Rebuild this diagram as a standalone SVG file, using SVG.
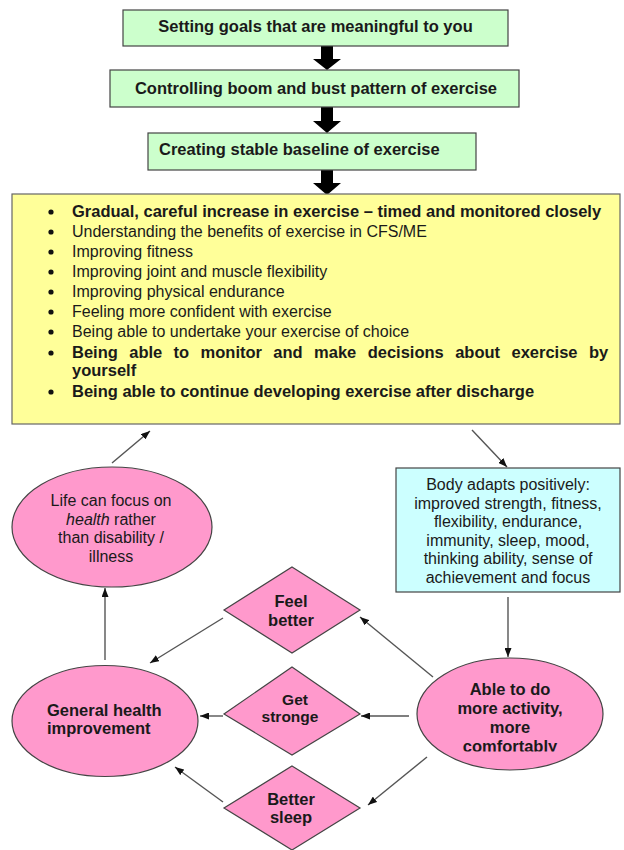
<svg xmlns="http://www.w3.org/2000/svg" width="624" height="850" viewBox="0 0 624 850">
  <defs>
    <style>
      .t { font-family: "Liberation Sans", Arial, sans-serif; fill: #1a1a1a; }
      .b { font-weight: bold; font-size: 16.5px; }
      .r { font-size: 16px; }
      .c { text-anchor: middle; }
      .green { fill: #ccffcc; stroke: #444; stroke-width: 1.2; }
      .yellow { fill: #ffff99; stroke: #666; stroke-width: 1.2; }
      .blue { fill: #ccffff; stroke: #444; stroke-width: 1.2; }
      .pink { fill: #ff99cc; stroke: #444; stroke-width: 1.2; }
      .block { fill: #000; }
      .conn { stroke: #555; stroke-width: 1.4; fill: none; marker-end: url(#ah); }
    </style>
    <marker id="ah" markerWidth="9" markerHeight="7" refX="9" refY="3.5" orient="auto" markerUnits="userSpaceOnUse">
      <path d="M0,0 L9,3.5 L0,7 z" fill="#111"/>
    </marker>
    <clipPath id="ableClip">
      <rect x="400" y="650" width="220" height="101.5"/>
    </clipPath>
  </defs>

  <g id="connectors">
    <polygon class="block" points="321,46 333,46 333,59 341,59 327,70 313,59 321,59"/>
    <polygon class="block" points="321,107 333,107 333,121 341,121 327,133 313,121 321,121"/>
    <polygon class="block" points="321,170 333,170 333,183 341,183 327,195 313,183 321,183"/>
    <line class="conn" x1="112" y1="463" x2="150" y2="431"/>
    <line class="conn" x1="472" y1="430" x2="507" y2="467"/>
    <line class="conn" x1="508" y1="597" x2="508" y2="657"/>
    <line class="conn" x1="433" y1="677" x2="360" y2="617"/>
    <line class="conn" x1="409" y1="716" x2="361" y2="716"/>
    <line class="conn" x1="427" y1="757" x2="368" y2="805"/>
    <line class="conn" x1="223" y1="618" x2="150" y2="663"/>
    <line class="conn" x1="223" y1="716" x2="200" y2="716"/>
    <line class="conn" x1="223" y1="802" x2="175" y2="767"/>
    <line class="conn" x1="105" y1="660" x2="105" y2="588"/>
  </g>

  <g id="goals">
    <rect class="green" x="123" y="10" width="385" height="36"/>
    <text class="t b c" x="315.5" y="32">Setting goals that are meaningful to you</text>
  </g>

  <g id="boom-bust">
    <rect class="green" x="110" y="70" width="409" height="37"/>
    <text class="t b c" x="316" y="93.5">Controlling boom and bust pattern of exercise</text>
  </g>

  <g id="baseline">
    <rect class="green" x="148" y="133" width="328" height="37"/>
    <text class="t b" x="159" y="155">Creating stable baseline of exercise</text>
  </g>

  <g id="exercise-list">
    <rect class="yellow" x="12" y="194" width="608" height="230"/>
    <g fill="#111">
      <circle cx="51" cy="212" r="2.6"/>
      <circle cx="51" cy="232" r="2.6"/>
      <circle cx="51" cy="252" r="2.6"/>
      <circle cx="51" cy="272" r="2.6"/>
      <circle cx="51" cy="292" r="2.6"/>
      <circle cx="51" cy="312" r="2.6"/>
      <circle cx="51" cy="332" r="2.6"/>
      <circle cx="51" cy="353" r="2.6"/>
      <circle cx="51" cy="392" r="2.6"/>
    </g>
    <text class="t b" x="72" y="217">Gradual, careful increase in exercise – timed and monitored closely</text>
    <text class="t r" x="72" y="237">Understanding the benefits of exercise in CFS/ME</text>
    <text class="t r" x="72" y="257">Improving fitness</text>
    <text class="t r" x="72" y="277">Improving joint and muscle flexibility</text>
    <text class="t r" x="72" y="297">Improving physical endurance</text>
    <text class="t r" x="72" y="317">Feeling more confident with exercise</text>
    <text class="t r" x="72" y="337">Being able to undertake your exercise of choice</text>
    <text class="t b" x="72" y="358" word-spacing="6.8">Being able to monitor and make decisions about exercise by</text>
    <text class="t b" x="72" y="376">yourself</text>
    <text class="t b" x="72" y="397">Being able to continue developing exercise after discharge</text>
  </g>

  <g id="life-focus">
    <ellipse class="pink" cx="112" cy="527" rx="100" ry="60"/>
    <text class="t r c" x="111" y="506">Life can focus on</text>
    <text class="t r c" x="111" y="525"><tspan font-style="italic">health</tspan> rather</text>
    <text class="t r c" x="111" y="543">than disability /</text>
    <text class="t r c" x="111" y="562">illness</text>
  </g>

  <g id="body-adapts">
    <rect class="blue" x="396" y="468" width="224" height="124"/>
    <text class="t r c" x="508" y="490">Body adapts positively:</text>
    <text class="t r c" x="508" y="508.5">improved strength, fitness,</text>
    <text class="t r c" x="508" y="527">flexibility, endurance,</text>
    <text class="t r c" x="508" y="545.5">immunity, sleep, mood,</text>
    <text class="t r c" x="508" y="564">thinking ability, sense of</text>
    <text class="t r c" x="508" y="582.5">achievement and focus</text>
  </g>

  <g id="feel-better">
    <polygon class="pink" points="292,567 360,610 292,653 224,610"/>
    <text class="t b c" x="291" y="607">Feel</text>
    <text class="t b c" x="291" y="626">better</text>
  </g>

  <g id="get-stronger">
    <polygon class="pink" points="292,667 360,714 292,755 224,714"/>
    <text class="t b c" x="295" y="705" style="font-size:15.5px">Get</text>
    <text class="t b c" x="290" y="722" style="font-size:15.5px">stronge</text>
  </g>

  <g id="better-sleep">
    <polygon class="pink" points="292,766 360,808 292,850 224,808"/>
    <text class="t b c" x="291" y="805">Better</text>
    <text class="t b c" x="291" y="823">sleep</text>
  </g>

  <g id="general-health">
    <ellipse class="pink" cx="105" cy="721" rx="93" ry="55.5"/>
    <text class="t b" x="47" y="715.5">General health</text>
    <text class="t b" x="47" y="733.5">improvement</text>
  </g>

  <g id="able-more">
    <ellipse class="pink" cx="510" cy="714" rx="93" ry="56"/>
    <g clip-path="url(#ableClip)">
      <text class="t b c" x="510" y="695">Able to do</text>
      <text class="t b c" x="510" y="714">more activity,</text>
      <text class="t b c" x="510" y="733">more</text>
      <text class="t b c" x="510" y="752">comfortably</text>
    </g>
  </g>
</svg>
